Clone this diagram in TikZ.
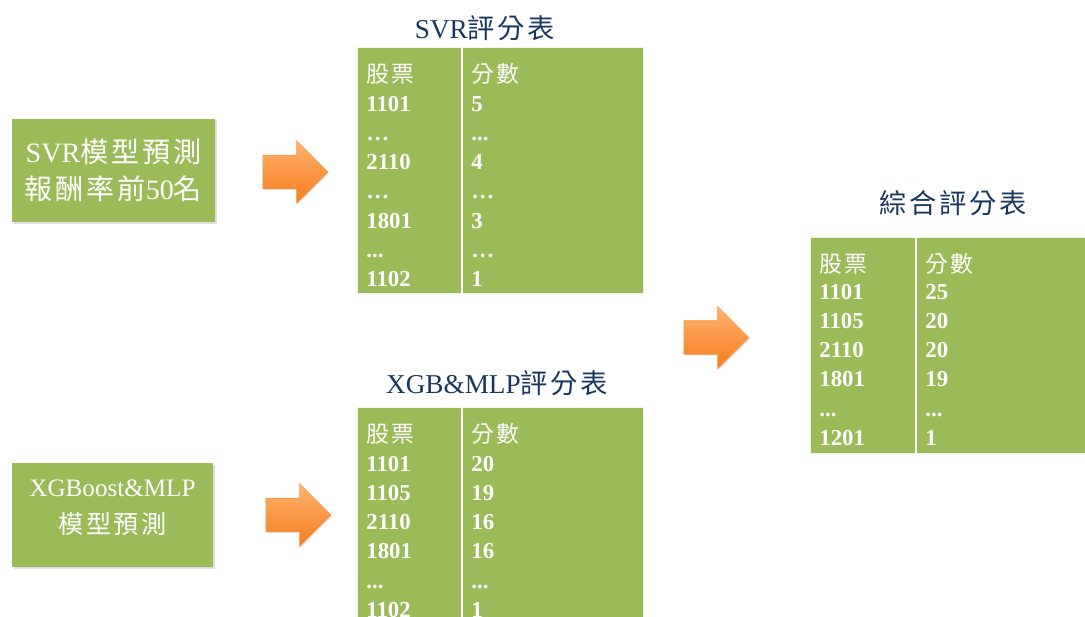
\documentclass[tikz,border=0pt]{standalone}
\usepackage{fontspec}
\setmainfont{Liberation Serif}
\newfontfamily\cjk[LetterSpace=10]{Noto Sans CJK TC}
\usetikzlibrary{positioning,calc,shapes.arrows,shadows}
\definecolor{boxGreen}{HTML}{9BBB59}
\definecolor{titleBlue}{HTML}{17375E}
\definecolor{arrowTop}{HTML}{FFB36E}
\definecolor{arrowBot}{HTML}{F47D1F}
\tikzset{
	modelbox/.style={fill=boxGreen, text=white, align=center, inner sep=0pt,
		drop shadow={shadow xshift=1pt, shadow yshift=-1pt, opacity=0.25}},
	tablebox/.style={fill=boxGreen, draw=white!85!boxGreen, line width=0.5pt, inner sep=0pt, anchor=north west},
	divider/.style={draw=white, line width=0.8pt},
	celltext/.style={text=white, anchor=base west, inner sep=0pt, font=\fontsize{13}{16}\selectfont\bfseries},
	titletext/.style={text=titleBlue, font=\fontsize{15.5}{18}\selectfont},
	blockarrow/.style={shape=single arrow, top color=arrowTop, bottom color=arrowBot, draw=arrowBot!80!white,
		line width=0.3pt, inner xsep=0pt, inner ysep=0.33cm, single arrow head extend=0.29cm,
		minimum height=1.3cm, drop shadow={shadow xshift=0.8pt, shadow yshift=-0.8pt, opacity=0.2}}
}
\newcommand{\sdots}{...}
\newcommand{\wdots}{…}
\newcommand{\headrow}[2]{%
	\node[celltext] (#1h1) at ($(#1.north west)+(9,35)$) {\cjk\mdseries 股票};
	\node[celltext] (#1h2) at ($(#1.north west)+(#2+9,35)$) {\cjk\mdseries 分數};}
\begin{document}
\begin{tikzpicture}[x=0.02cm, y=-0.02cm]
	\useasboundingbox (0,0) rectangle (1085,616);
	% model boxes
	\node[modelbox, minimum width=4.06cm, minimum height=2.08cm] (svrbox) at (113.5,170.5) {};
	\node[text=white, align=center, font=\fontsize{16}{21}\selectfont] (svrlab) at (svrbox.center)
		{SVR{\cjk 模型預測}\\{\cjk 報酬率前}50{\cjk 名}};
	\node[modelbox, minimum width=4.02cm, minimum height=2.08cm] (xgbbox) at (112.5,515) {};
	\node[text=white, align=center, font=\fontsize{14.3}{21}\selectfont] (xgblab) at (112.5,508)
		{XGBoost\&MLP\\{\cjk 模型預測}};
	% arrows
	\node[blockarrow] (arrow1) at (287,172) {};
	\node[blockarrow] (arrow2) at (290,515) {};
	\node[blockarrow] (arrow3) at (708,337.5) {};
	% titles
	\node[titletext] (svrtitle) at (485,28) {SVR{\cjk 評分表}};
	\node[titletext] (xgbtitle) at (497,383) {XGB\&MLP{\cjk 評分表}};
	\node[titletext] (sumtitle) at (953,203) {\cjk 綜合評分表};
	% SVR table
	\node[tablebox, minimum width=5.72cm, minimum height=4.92cm] (svrtab) at (357,47) {};
	\draw[divider] ($(svrtab.north west)+(105,0)$) -- ($(svrtab.south west)+(105,0)$);
	\headrow{svrtab}{105}
	\foreach \stock/\score [count=\i] in {1101/5, \wdots/\sdots, 2110/4, \wdots/\wdots, 1801/3, \sdots/\wdots, 1102/1} {
		\node[celltext] at ($(svrtab.north west)+(9,35+29.2*\i)$) {\stock};
		\node[celltext] at ($(svrtab.north west)+(114,35+29.2*\i)$) {\score};
	}
	% XGB&MLP table
	\node[tablebox, minimum width=5.72cm, minimum height=4.3cm] (xgbtab) at (357,407) {};
	\draw[divider] ($(xgbtab.north west)+(105,0)$) -- ($(xgbtab.south west)+(105,0)$);
	\headrow{xgbtab}{105}
	\foreach \stock/\score [count=\i] in {1101/20, 1105/19, 2110/16, 1801/16, \sdots/\sdots, 1102/1} {
		\node[celltext] at ($(xgbtab.north west)+(9,35+29.2*\i)$) {\stock};
		\node[celltext] at ($(xgbtab.north west)+(114,35+29.2*\i)$) {\score};
	}
	% combined table
	\node[tablebox, minimum width=5.6cm, minimum height=4.32cm] (sumtab) at (810,237) {};
	\draw[divider] ($(sumtab.north west)+(106,0)$) -- ($(sumtab.south west)+(106,0)$);
	\headrow{sumtab}{106}
	\foreach \stock/\score [count=\i] in {1101/25, 1105/20, 2110/20, 1801/19, \sdots/\sdots, 1201/1} {
		\node[celltext] at ($(sumtab.north west)+(9,33+29.2*\i)$) {\stock};
		\node[celltext] at ($(sumtab.north west)+(115,33+29.2*\i)$) {\score};
	}
\end{tikzpicture}
\end{document}
